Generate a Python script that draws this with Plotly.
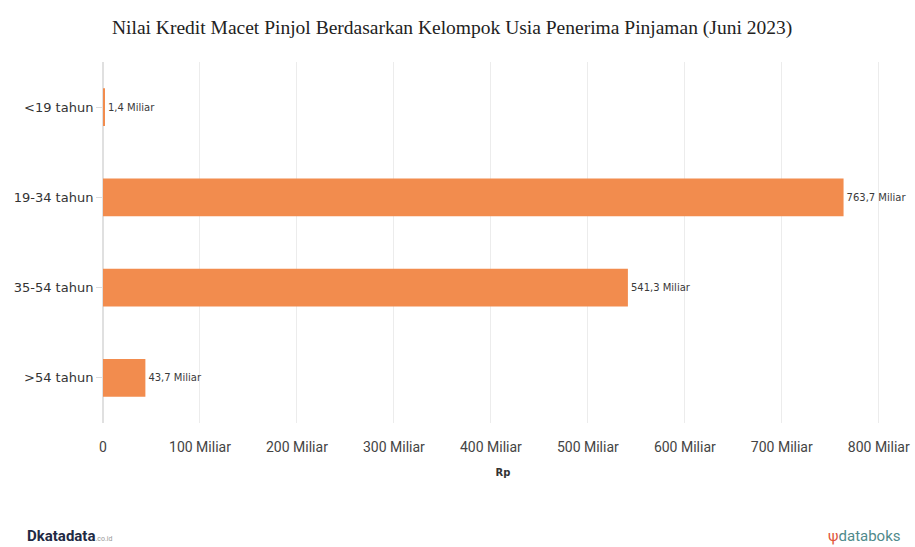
import plotly.graph_objects as go

categories = ["<19 tahun", "19-34 tahun", "35-54 tahun", ">54 tahun"]
values = [1.4, 763.7, 541.3, 43.7]
value_labels = ["1,4 Miliar", "763,7 Miliar", "541,3 Miliar", "43,7 Miliar"]
tick_vals = [0, 100, 200, 300, 400, 500, 600, 700, 800]
tick_text = ["0", "100 Miliar", "200 Miliar", "300 Miliar", "400 Miliar",
             "500 Miliar", "600 Miliar", "700 Miliar", "800 Miliar"]

fig = go.Figure(go.Bar(
    y=categories, x=values, orientation="h",
    marker=dict(color="#F28C4E", line=dict(width=0)),
    text=value_labels, textposition="outside", cliponaxis=False,
    textfont=dict(family="DejaVu Sans", size=10, color="#3a3a3a"),
    width=0.42,
))

fig.update_layout(
    width=915, height=547,
    margin=dict(l=103, r=12, t=62, b=124),
    plot_bgcolor="white", paper_bgcolor="white",
    showlegend=False,
    title=dict(text="Nilai Kredit Macet Pinjol Berdasarkan Kelompok Usia Penerima Pinjaman (Juni 2023)",
               x=0.0, xref="paper", xanchor="left", y=0.95, yanchor="middle",
               pad=dict(l=9),
               font=dict(family="Liberation Serif", size=19.5, color="#222222")),
    xaxis=dict(range=[0, 825], tickvals=tick_vals, ticktext=tick_text, automargin=False,
               showgrid=True, gridcolor="#ececec", gridwidth=1,
               zeroline=True, zerolinecolor="#e0e0e0",
               ticks="", ticklen=0, ticklabelstandoff=14,
               tickfont=dict(family="Roboto", size=14, color="#444444"),
               title=dict(text="<b>Rp</b>", font=dict(family="DejaVu Sans", size=10, color="#333333"),
                          standoff=14)),
    yaxis=dict(categoryorder="array", categoryarray=categories[::-1], automargin=False,
               showgrid=False, ticks="outside", ticklen=6, tickcolor="#dddddd",
               showline=False,
               tickfont=dict(family="DejaVu Sans", size=13, color="#333333")),
    font=dict(family="DejaVu Sans"),
)

fig.add_annotation(text="<b>D</b><b>katadata</b><span style='font-size:7px;color:#999'>.co.id</span>",
                   xref="paper", yref="paper", x=-0.097, y=-0.313, xanchor="left", yanchor="middle",
                   showarrow=False, font=dict(family="Roboto", size=15, color="#1f2a44"))
fig.add_annotation(text="<span style='color:#e2553a'>ψ</span>databoks",
                   xref="paper", yref="paper", x=1.0, y=-0.313, xanchor="right", yanchor="middle",
                   showarrow=False, font=dict(family="Roboto", size=15, color="#4f8a8b"))

fig.write_html("out.html", config={"displayModeBar": False},
               post_script="document.body.style.margin='0';")
